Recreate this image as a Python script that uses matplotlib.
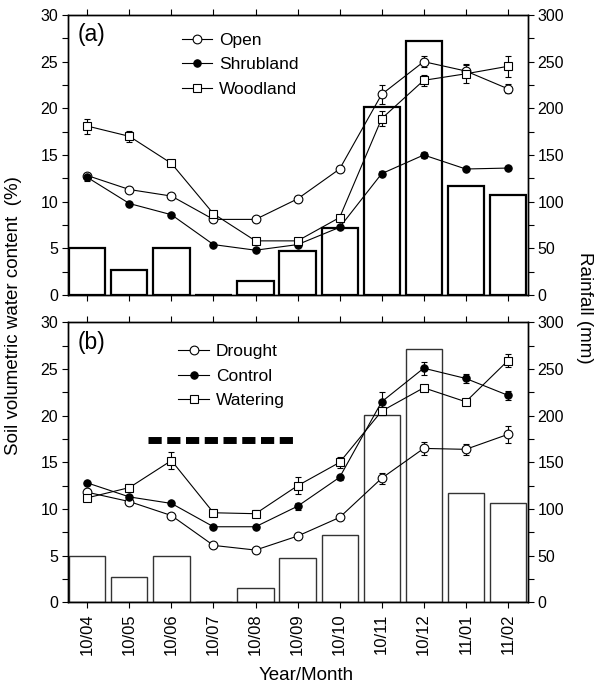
import matplotlib
matplotlib.use("Agg")
import matplotlib.pyplot as plt
from matplotlib.lines import Line2D
import numpy as np

plt.rcParams['font.family'] = ['Liberation Sans', 'DejaVu Sans']

months = ["10/04", "10/05", "10/06", "10/07", "10/08", "10/09", "10/10",
          "10/11", "10/12", "11/01", "11/02"]
rainfall = [50, 27, 50, 0, 15, 47, 72, 201, 272, 117, 107]

# Panel (a)
open_vals = [12.8, 11.3, 10.6, 8.1, 8.1, 10.3, 13.5, 21.5, 25.0, 24.0, 22.1]
open_err = [0.3, 0.3, 0.3, 0.3, 0.3, 0.3, 0.3, 1.0, 0.6, 0.6, 0.5]
shrub_vals = [12.6, 9.8, 8.6, 5.4, 4.8, 5.4, 7.25, 13.0, 15.0, 13.5, 13.6]
shrub_err = [0.4, 0.2, 0.2, 0.2, 0.2, 0.2, 0.2, 0.3, 0.3, 0.2, 0.2]
wood_vals = [18.1, 17.0, 14.1, 8.7, 5.8, 5.8, 8.3, 18.9, 23.0, 23.7, 24.5]
wood_err = [0.8, 0.6, 0.3, 0.3, 0.2, 0.2, 0.3, 0.8, 0.6, 1.0, 1.1]

# Panel (b)
drought_vals = [11.8, 10.8, 9.3, 6.1, 5.6, 7.1, 9.1, 13.3, 16.5, 16.4, 18.0]
drought_err = [0.2, 0.2, 0.2, 0.2, 0.2, 0.2, 0.2, 0.6, 0.7, 0.6, 0.9]
control_vals = [12.8, 11.3, 10.6, 8.1, 8.1, 10.3, 13.4, 21.5, 25.1, 24.0, 22.2]
control_err = [0.2, 0.2, 0.2, 0.2, 0.2, 0.4, 0.3, 1.1, 0.7, 0.5, 0.5]
water_vals = [11.2, 12.3, 15.2, 9.6, 9.5, 12.5, 15.0, 20.5, 23.0, 21.5, 25.9]
water_err = [0.3, 0.4, 0.9, 0.3, 0.4, 0.9, 0.6, 0.4, 0.3, 0.3, 0.7]

drought_period = (1.45, 4.9)
drought_marker_level = 17.4

x = np.arange(len(months))

fig = plt.figure(figsize=(5.96, 6.87), dpi=100)
left, right = 68 / 596, 528 / 596
H = 687
ax_a = fig.add_axes([left, 1 - 295 / H, right - left, 280 / H])
ax_b = fig.add_axes([left, 1 - 602.3 / H, right - left, 279.8 / H])

FS = 11.5
MS_OPEN = 6.3
MS_FILL = 5.3


def style_panel(ax, edge_lw, edge_col):
    tw = ax.twinx()
    tw.bar(x, rainfall, width=0.86, facecolor='white', edgecolor=edge_col,
           linewidth=edge_lw, zorder=1)
    tw.set_ylim(0, 300)
    tw.set_yticks(np.arange(0, 301, 50))
    tw.set_yticks(np.arange(0, 301, 25), minor=True)
    tw.tick_params(axis='y', direction='out', length=4, width=0.8,
                   labelsize=FS, pad=3)
    tw.tick_params(axis='y', which='minor', direction='out', length=4, width=0.8)
    ax.set_zorder(tw.get_zorder() + 1)
    ax.patch.set_visible(False)
    ax.set_xlim(-0.46, 10.48)
    ax.set_ylim(0, 30)
    ax.set_yticks(np.arange(0, 31, 5))
    ax.set_yticks(np.arange(0, 31, 2.5), minor=True)
    ax.set_xticks(x)
    ax.tick_params(axis='y', direction='out', length=4, width=0.8,
                   labelsize=FS, pad=3)
    ax.tick_params(axis='y', which='minor', direction='out', length=4, width=0.8)
    ax.tick_params(axis='x', direction='out', length=4, width=0.8,
                   top=True, labelsize=12, pad=4)
    for s in list(ax.spines.values()) + list(tw.spines.values()):
        s.set_linewidth(1.0)
    return tw


def series(ax, vals, err, marker, face, ms):
    ax.errorbar(x, vals, yerr=err, color='black', lw=0.8, marker=marker,
                markersize=ms, markerfacecolor=face, markeredgecolor='black',
                markeredgewidth=0.8, ecolor='black', elinewidth=0.8,
                capsize=2.5, capthick=0.8, zorder=3)


def legend(ax, labels, anchor):
    styles = [('o', 'white', MS_OPEN), ('o', 'black', MS_FILL), ('s', 'white', MS_OPEN)]
    handles = [Line2D([], [], color='black', lw=0.8, marker=m, markersize=ms,
                      markerfacecolor=f, markeredgecolor='black',
                      markeredgewidth=0.8) for m, f, ms in styles]
    ax.legend(handles, labels, loc='upper left', bbox_to_anchor=anchor,
              frameon=False, fontsize=12.5, handlelength=1.75,
              handletextpad=0.4, labelspacing=0.54, borderaxespad=0.0,
              borderpad=0.0)


tw_a = style_panel(ax_a, 1.6, 'black')
series(ax_a, open_vals, open_err, 'o', 'white', MS_OPEN)
series(ax_a, shrub_vals, shrub_err, 'o', 'black', MS_FILL)
series(ax_a, wood_vals, wood_err, 's', 'white', MS_OPEN)
ax_a.tick_params(axis='x', labelbottom=False)
ax_a.text(0.022, 0.93, "(a)", transform=ax_a.transAxes, fontsize=16.5,
          va='center', ha='left')
legend(ax_a, ["Open", "Shrubland", "Woodland"], (0.247, 0.937))

tw_b = style_panel(ax_b, 1.0, '#333333')
series(ax_b, drought_vals, drought_err, 'o', 'white', MS_OPEN)
series(ax_b, control_vals, control_err, 'o', 'black', MS_FILL)
series(ax_b, water_vals, water_err, 's', 'white', MS_OPEN)
ax_b.plot(drought_period, [drought_marker_level] * 2, color='black',
          lw=5.0, solid_capstyle='butt', dash_capstyle='butt',
          linestyle=(0, (1.9, 0.8)), zorder=2)
ax_b.set_xticklabels(months, rotation=90)
ax_b.text(0.022, 0.93, "(b)", transform=ax_b.transAxes, fontsize=16.5,
          va='center', ha='left')
legend(ax_b, ["Drought", "Control", "Watering"], (0.240, 0.923))

fig.text(306 / 596, 1 - 676 / H, "Year/Month", va='center', ha='center',
         fontsize=13.5)
fig.text(14 / 596, 1 - 316 / H, "Soil volumetric water content  (%)",
         rotation=90, va='center', ha='center', fontsize=13.5)
fig.text(584 / 596, 1 - 308 / H, "Rainfall (mm)", rotation=270,
         va='center', ha='center', fontsize=13.5)

fig.savefig("out.png", dpi=100)
